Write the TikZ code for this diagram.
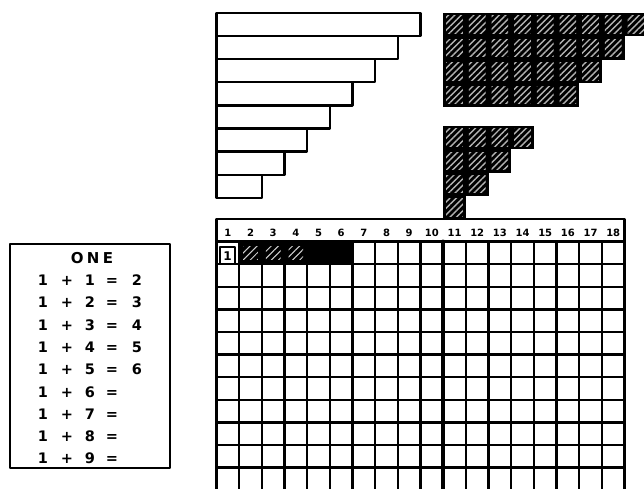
\documentclass[tikz,border=0pt]{standalone}
\usepackage{fontspec}
\setmainfont{DejaVu Sans}
\usetikzlibrary{patterns.meta}
\begin{document}
\begin{tikzpicture}[x=1pt,y=-1pt,line join=round,line cap=round,
  ink/.style={line width=2.4pt,draw=black},
  hatch/.style={pattern={Lines[angle=45,distance=4.5pt,line width=1.4pt]},pattern color=gray!60},
  faint/.style={pattern={Lines[angle=45,distance=5pt,line width=1pt]},pattern color=gray!35},
  eq/.style={font=\fontsize{14.5}{14.5}\selectfont\bfseries,inner sep=0pt,anchor=base},
  hd/.style={font=\fontsize{10}{10}\selectfont\bfseries,inner sep=0pt,anchor=base}]
\useasboundingbox (0,0) rectangle (644,489);
\def\cw{22.67}
\def\xo{216.5}
\def\yh{219}
\def\yr{241.5}
\def\rh{22.6}
% white staircase bars
\foreach \i in {0,...,7}{
  \draw[ink,fill=white] (\xo,{13+23.1*\i}) rectangle ({\xo+(9-\i)*\cw},{13+23.1*(\i+1)});
}
% black staircase, upper
\foreach \i in {0,...,3}{
  \pgfmathtruncatemacro\n{9-\i}
  \fill[black] ({\xo+10*\cw},{13+23.4*\i}) rectangle ({min(\xo+(10+\n)*\cw,644)},{13+23.4*(\i+1)});
  \foreach \j in {1,...,\n}{
    \fill[hatch] ({\xo+(9+\j)*\cw+3},{13+23.4*\i+3}) rectangle ({\xo+(10+\j)*\cw-3},{13+23.4*(\i+1)-3});
  }
}
% black staircase, lower
\foreach \i in {0,...,3}{
  \pgfmathtruncatemacro\n{4-\i}
  \fill[black] ({\xo+10*\cw},{126+23.25*\i}) rectangle ({\xo+(10+\n)*\cw},{126+23.25*(\i+1)});
  \foreach \j in {1,...,\n}{
    \fill[hatch] ({\xo+(9+\j)*\cw+3},{126+23.25*\i+3}) rectangle ({\xo+(10+\j)*\cw-3},{126+23.25*(\i+1)-3});
  }
}
% grid
\fill[white] (\xo,\yh) rectangle ({\xo+18*\cw},489);
\fill[black] ({\xo+\cw},\yr) rectangle ({\xo+6*\cw},{\yr+\rh});
\foreach \j in {2,...,4}{
  \fill[faint] ({\xo+(\j-1)*\cw+4},{\yr+5}) rectangle ({\xo+\j*\cw-4},{\yr+\rh-5});
}
\draw[ink] (\xo,489) -- (\xo,\yh) -- ({\xo+18*\cw},\yh) -- ({\xo+18*\cw},489);
\foreach \r in {0,...,10}{
  \draw[ink] (\xo,{\yr+\r*\rh}) -- ({\xo+18*\cw},{\yr+\r*\rh});
}
\foreach \c in {1,...,17}{
  \draw[ink] ({\xo+\c*\cw},\yr) -- ({\xo+\c*\cw},489);
}
\draw[line width=4pt] ({\xo+10*\cw},\yr) -- ({\xo+10*\cw},489);
\foreach \c in {1,...,18}{
  \node[hd] (h\c) at ({\xo+(\c-0.5)*\cw},236.5) {\c};
}
\draw[line width=1.8pt,fill=white] (220,247) rectangle (235,263.5);
\node[eq,font=\fontsize{12}{12}\selectfont\bfseries] (first) at (227.5,260) {1};
% ONE card
\draw[ink] (10,244) rectangle (170,468);
\node[eq,font=\fontsize{15}{15}\selectfont\bfseries\addfontfeature{LetterSpace=22}] (title) at (92,263) {ONE};
\foreach \k/\r in {1/2,2/3,3/4,4/5,5/6,6/,7/,8/,9/}{
  \pgfmathsetmacro\yy{285.5+22.3*(\k-1)}
  \node[eq] (a\k) at (43,\yy) {1};
  \node[eq] (p\k) at (67,\yy) {+};
  \node[eq] (n\k) at (90,\yy) {\k};
  \node[eq] (e\k) at (112,\yy) {=};
  \node[eq] (r\k) at (137,\yy) {\r};
}
\end{tikzpicture}
\end{document}
